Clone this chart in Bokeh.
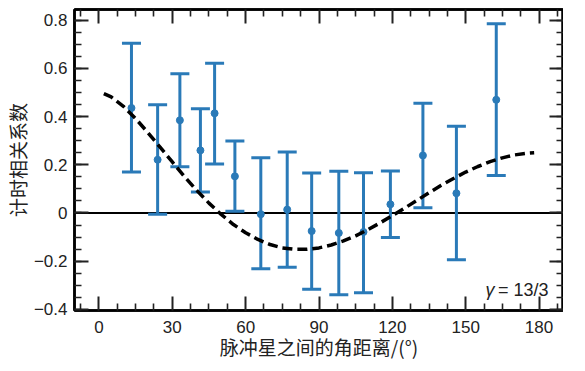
from bokeh.plotting import figure
from bokeh.models import (ColumnDataSource, Whisker, TeeHead, FixedTicker, LinearAxis,
                          Span, Label, CustomJSTickFormatter, Range1d)
from bokeh.embed import file_html
from bokeh.resources import INLINE

# ---- data ----
angle = [13.3, 24.0, 33.1, 41.5, 47.3, 55.6, 66.2, 77.0, 87.0, 98.1, 108.2, 119.2, 132.5, 146.2, 162.5]
corr = [0.436, 0.221, 0.385, 0.260, 0.414, 0.152, -0.005, 0.014, -0.075, -0.083, -0.079, 0.036, 0.239, 0.082, 0.470]
upper = [0.705, 0.449, 0.578, 0.433, 0.622, 0.299, 0.229, 0.253, 0.166, 0.173, 0.167, 0.174, 0.456, 0.360, 0.786]
lower = [0.170, -0.005, 0.192, 0.087, 0.203, 0.007, -0.232, -0.225, -0.317, -0.340, -0.331, -0.102, 0.022, -0.194, 0.156]

curve_angle = [2, 5, 10, 15, 20, 25, 30, 35, 40, 45, 50, 55, 60, 65, 70, 75, 80, 85, 90, 95,
               100, 105, 110, 115, 120, 125, 130, 135, 140, 145, 150, 155, 160, 165, 170, 175, 178]
curve_corr = [0.496, 0.482, 0.443, 0.392, 0.334, 0.273, 0.212, 0.151, 0.094, 0.041, -0.006, -0.048,
              -0.082, -0.110, -0.131, -0.145, -0.151, -0.151, -0.145, -0.133, -0.116, -0.095, -0.069,
              -0.041, -0.011, 0.020, 0.052, 0.084, 0.115, 0.143, 0.170, 0.193, 0.213, 0.229, 0.241,
              0.248, 0.250]

x_ticks = [0, 30, 60, 90, 120, 150, 180]
y_ticks = [-0.4, -0.2, 0.0, 0.2, 0.4, 0.6, 0.8]
x_title = "脉冲星之间的角距离/(°)"
y_title = "计时相关系数"
annotation_text = "= 13/3"

BLUE = "#2a7ab8"
FONT = "Liberation Sans"
CJK = "Noto Sans CJK SC"

p = figure(frame_width=489, frame_height=301, output_backend="svg", toolbar_location=None,
           x_range=Range1d(-10, 190), y_range=Range1d(-0.405, 0.845),
           min_border_left=0, min_border_right=0, min_border_top=9, min_border_bottom=0)
p.background_fill_color = "white"
p.border_fill_color = "white"
p.outline_line_color = "black"
p.outline_line_width = 2.5
p.grid.visible = False

x_minor = [v * 7.5 for v in range(-1, 26) if (v % 4) != 0]
y_minor = [round(-0.4 + 0.05 * i, 2) for i in range(0, 26)]

def style_axis(ax, ticks, minor):
    ax.ticker = FixedTicker(ticks=ticks, minor_ticks=minor)
    ax.axis_line_color = "black"
    ax.axis_line_width = 2.5
    ax.major_tick_in = 14
    ax.major_tick_out = 0
    ax.minor_tick_in = 7
    ax.minor_tick_out = 0
    ax.major_tick_line_width = 2
    ax.minor_tick_line_width = 1.6
    ax.major_tick_line_color = "#222"
    ax.minor_tick_line_color = "#222"
    ax.major_label_text_font = FONT
    ax.major_label_text_font_size = "17px"
    ax.major_label_text_color = "#222"
    ax.major_label_standoff = 7

style_axis(p.xaxis[0], x_ticks, [m for m in x_minor if m not in x_ticks])
style_axis(p.yaxis[0], y_ticks, y_minor)
p.xaxis[0].major_label_standoff = 10
p.yaxis[0].formatter = CustomJSTickFormatter(code="""
if (Math.abs(tick) < 1e-9) return '0';
return tick < 0 ? '\u2212' + (-tick).toFixed(1) : tick.toFixed(1);
""")

p.xaxis[0].axis_label = x_title
p.yaxis[0].axis_label = y_title
for ax in (p.xaxis[0], p.yaxis[0]):
    ax.axis_label_text_font = CJK
    ax.axis_label_text_font_size = "19px"
    ax.axis_label_text_font_style = "normal"
    ax.axis_label_text_color = "#222"
p.xaxis[0].axis_label_standoff = -3
p.yaxis[0].axis_label_standoff = 0

top = LinearAxis(formatter=CustomJSTickFormatter(code="return '';"))
right = LinearAxis(formatter=CustomJSTickFormatter(code="return '';"))
style_axis(top, x_ticks, [m for m in x_minor if m not in x_ticks])
style_axis(right, y_ticks, y_minor)
for ax in (top, right):
    ax.major_label_standoff = 0
    ax.major_label_text_font_size = "1px"
top.major_label_standoff = 8
p.add_layout(top, "above")
p.add_layout(right, "right")

# blank outer strip on the left (keeps the frame where the reference has it)
pad = LinearAxis(formatter=CustomJSTickFormatter(code="return '';"), ticker=FixedTicker(ticks=[]),
                 axis_line_color=None, major_tick_line_color=None, minor_tick_line_color=None,
                 major_tick_in=0, major_tick_out=0, minor_tick_in=0, minor_tick_out=0,
                 major_label_standoff=6, major_label_text_font_size="1px")
p.add_layout(pad, "left")

zero = Span(location=0, dimension="width", line_color="black", line_width=2, level="underlay")
p.add_layout(zero)

src = ColumnDataSource(dict(x=angle, y=corr, up=upper, lo=lower))
wh = Whisker(base="x", upper="up", lower="lo", source=src, line_color=BLUE, line_width=3,
             upper_head=TeeHead(size=19, line_color=BLUE, line_width=3),
             lower_head=TeeHead(size=19, line_color=BLUE, line_width=3))
p.add_layout(wh)
p.scatter("x", "y", source=src, size=7, color=BLUE)

p.line(curve_angle, curve_corr, line_color="black", line_width=3.5, line_dash="10 5")

lab = Label(x=183.9, y=-0.3195, text=annotation_text, text_align="right", text_baseline="alphabetic",
            text_font=FONT, text_font_size="18px", text_color="#222")
gam = Label(x=183.9, y=-0.3195, x_offset=-54, text="γ", text_align="right", text_baseline="alphabetic",
            text_font=FONT, text_font_size="18px", text_font_style="italic", text_color="#222")
p.add_layout(lab)
p.add_layout(gam)

html = file_html(p, INLINE)
html = html.replace("<body>", '<body style="background:#e6e6e6; overflow:hidden">', 1)
open("out.html", "w").write(html)
